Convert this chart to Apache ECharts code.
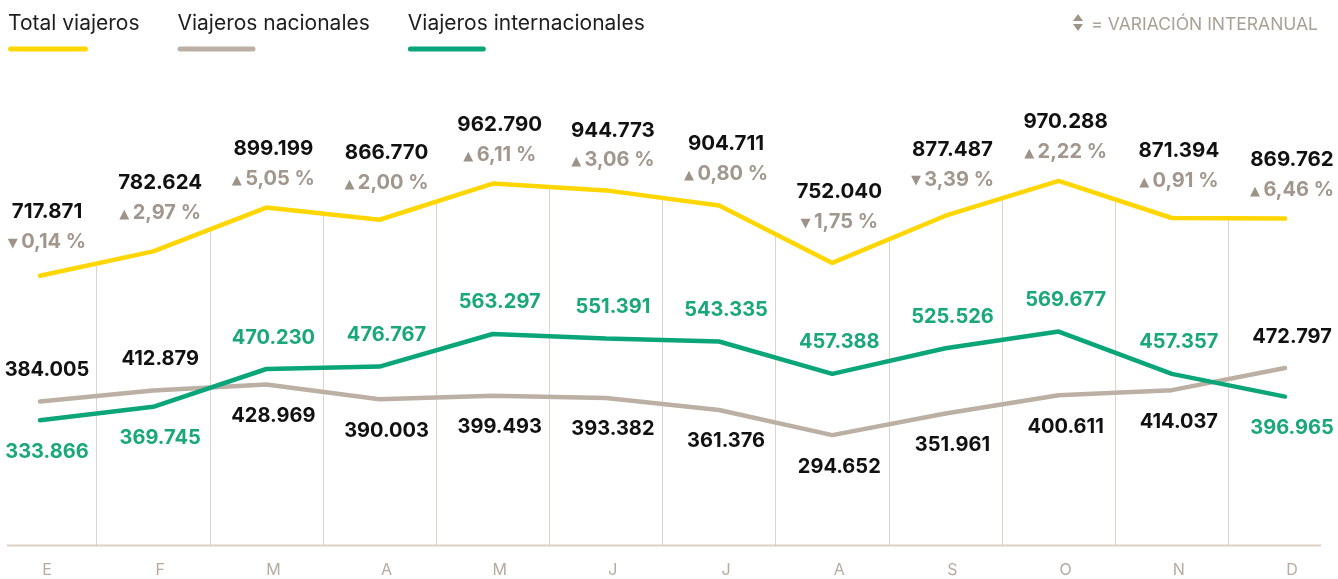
<!DOCTYPE html>
<html>
<head>
<meta charset="utf-8">
<script src="https://cdn.jsdelivr.net/npm/echarts@6/dist/echarts.min.js"></script>
<style>
    html, body { margin: 0; padding: 0; background: #fff; }
    #chart { width: 1338px; height: 579px; }
</style>
</head>
<body>
<div id="chart"></div>
<script>
    const months = ['E', 'F', 'M', 'A', 'M', 'J', 'J', 'A', 'S', 'O', 'N', 'D'];
    const seriesNames = ['Total viajeros', 'Viajeros nacionales', 'Viajeros internacionales'];
    const totalViajeros = [717871, 782624, 899199, 866770, 962790, 944773, 904711, 752040, 877487, 970288, 871394, 869762];
    const nacionales = [384005, 412879, 428969, 390003, 399493, 393382, 361376, 294652, 351961, 400611, 414037, 472797];
    const internacionales = [333866, 369745, 470230, 476767, 563297, 551391, 543335, 457388, 525526, 569677, 457357, 396965];
    // variación interanual del total (%)
    const variacion = [-0.14, 2.97, 5.05, 2.00, 6.11, 3.06, 0.80, -1.75, -3.39, 2.22, 0.91, 6.46];

    const colors = ['#ffd600', '#bbb0a3', '#0aa579'];
    const FONT = 'Inter, Roboto, sans-serif';
    const Y_MAX = 1250000;
    const GRID_TOP = 75.5, GRID_BOTTOM = 33;
    const pxPerUnit = (579 - GRID_TOP - GRID_BOTTOM) / Y_MAX;

    const fmtNum = v => String(v).replace(/\B(?=(\d{3})+(?!\d))/g, '.');
    const fmtPct = v => Math.abs(v).toFixed(2).replace('.', ',') + ' %';

    // sube la etiqueta si la línea vecina pasa por encima
    function liftFor(arr, i) {
        const w = 0.44;
        let top = arr[i];
        if (i > 0) top = Math.max(top, arr[i] + w * (arr[i - 1] - arr[i]));
        if (i < arr.length - 1) top = Math.max(top, arr[i] + w * (arr[i + 1] - arr[i]));
        return (top - arr[i]) * pxPerUnit;
    }

    const totalData = totalViajeros.map((v, i) => ({
        value: v,
        label: { distance: 13 + 0.5 * liftFor(totalViajeros, i) }
    }));
    const nacData = nacionales.map((v, i) => ({
        value: v,
        label: { position: v > internacionales[i] ? 'top' : 'bottom' }
    }));
    const intData = internacionales.map((v, i) => ({
        value: v,
        label: { position: v > nacionales[i] ? 'top' : 'bottom' }
    }));

    const chart = echarts.init(document.getElementById('chart'));

    const valueLabel = color => ({
        show: true,
        distance: 21,
        offset: [7, 0],
        formatter: p => fmtNum(p.value),
        fontFamily: FONT,
        fontSize: 20,
        fontWeight: 'bold',
        color: color
    });

    const lineSeries = (idx, data, z) => ({
        name: seriesNames[idx],
        type: 'line',
        z: z,
        data: data,
        symbol: 'circle',
        symbolSize: 1,
        lineStyle: { color: colors[idx], width: 4.5, cap: 'round' },
        itemStyle: { color: colors[idx] },
        emphasis: { disabled: true }
    });

    const option = {
        animation: false,
        textStyle: { fontFamily: FONT },
        legend: {
            left: -2,
            top: 8,
            icon: 'none',
            itemWidth: 0,
            itemHeight: 0,
            itemGap: 33,
            selectedMode: false,
            data: seriesNames,
            formatter: name => '{n|' + name + '}\n{b' + seriesNames.indexOf(name) + '|}',
            textStyle: {
                rich: {
                    n: { fontFamily: FONT, fontSize: 21, color: '#1e1e1e', lineHeight: 46 },
                    b0: { width: 80, height: 5, borderRadius: 3, backgroundColor: colors[0] },
                    b1: { width: 78, height: 5, borderRadius: 3, backgroundColor: colors[1] },
                    b2: { width: 78, height: 5, borderRadius: 3, backgroundColor: colors[2] }
                }
            }
        },
        title: {
            text: '= VARIACIÓN INTERANUAL',
            right: 15,
            top: 11,
            textStyle: { fontFamily: FONT, fontSize: 17.5, fontWeight: 'normal', color: '#aaa096' }
        },
        graphic: [
            { type: 'polygon', shape: { points: [[1073, 21], [1083, 21], [1078, 14]] }, style: { fill: '#9d9389' } },
            { type: 'polygon', shape: { points: [[1073, 24], [1083, 24], [1078, 31]] }, style: { fill: '#9d9389' } },
            { type: 'line', shape: { x1: 7, y1: 545.5, x2: 1321, y2: 545.5 }, style: { stroke: '#dcd1c2', lineWidth: 2 }, z: 1 }
        ],
        grid: {
            left: -16.6,
            right: -3.6,
            top: GRID_TOP,
            bottom: GRID_BOTTOM,
            outerBoundsMode: 'none',
            containLabel: false
        },
        xAxis: {
            type: 'category',
            boundaryGap: true,
            data: months,
            axisLine: { show: false },
            axisTick: { show: false },
            axisLabel: {
                interval: 0,
                margin: 16,
                padding: [0, 0, 0, 14],
                fontFamily: FONT,
                fontSize: 16,
                color: '#b6ab9f'
            },
            splitLine: { show: true, interval: 0, lineStyle: { color: '#ddd3c6', width: 1 } }
        },
        yAxis: {
            type: 'value',
            min: 0,
            max: Y_MAX,
            show: false,
            splitLine: { show: false }
        },
        series: [
            Object.assign(lineSeries(0, totalData, 2), {
                // tapa en blanco las líneas verticales por encima del total
                areaStyle: { color: '#ffffff', opacity: 1, origin: 'end' },
                label: {
                    show: true,
                    position: 'top',
                    offset: [7, 0],
                    formatter: p => {
                        const v = variacion[p.dataIndex];
                        return '{v|' + fmtNum(p.value) + '}\n{t|' + (v < 0 ? '▼' : '▲') + '} {p|' + fmtPct(v) + '}';
                    },
                    rich: {
                        v: { fontFamily: FONT, fontSize: 20.5, fontWeight: 'bold', color: '#111', lineHeight: 30 },
                        t: { fontFamily: '"DejaVu Sans"', fontSize: 13, color: '#9d9389', lineHeight: 30, padding: [3, 0, 0, 0] },
                        p: { fontFamily: FONT, fontSize: 20, fontWeight: 'bold', color: '#a1978d', lineHeight: 30 }
                    }
                }
            }),
            Object.assign(lineSeries(1, nacData, 3), { label: valueLabel('#111') }),
            Object.assign(lineSeries(2, intData, 4), { label: valueLabel('#1aa87a') })
        ]
    };

    chart.setOption(option);
</script>
</body>
</html>
